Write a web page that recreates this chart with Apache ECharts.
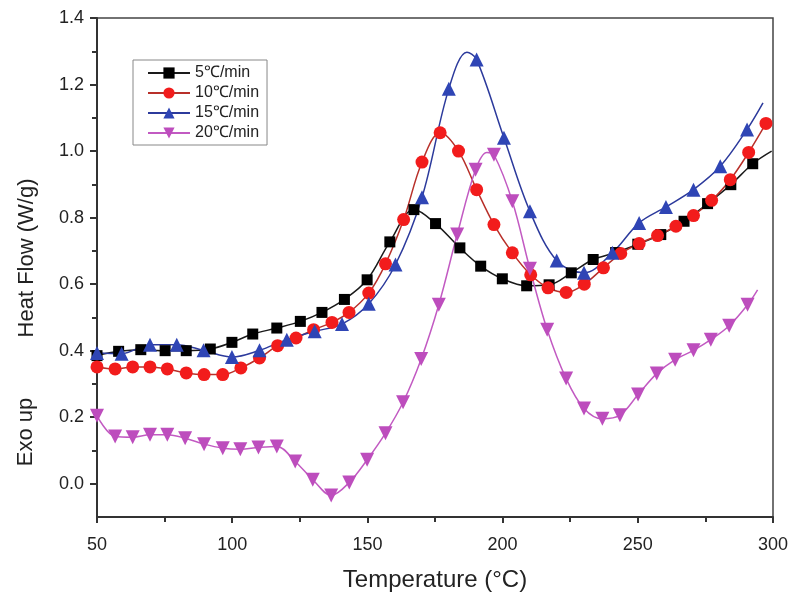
<!DOCTYPE html>
<html>
<head>
<meta charset="utf-8">
<script src="https://cdn.jsdelivr.net/npm/echarts@6/dist/echarts.min.js"></script>
<style>
  html, body { margin: 0; padding: 0; background: #fff; }
  #chart { width: 800px; height: 609px; }
</style>
</head>
<body>
<div id="chart"></div>
<script>
// series names
const seriesNames = ['5℃/min', '10℃/min', '15℃/min', '20℃/min']

// 5 ℃/min — marked points [T, heat flow]
const black = [
  [50, 0.385], [58, 0.398], [66.2, 0.403], [75.2, 0.40], [83, 0.40], [91.9, 0.405],
  [99.9, 0.425], [107.6, 0.45], [116.5, 0.468], [125.2, 0.488], [133.2, 0.515],
  [141.5, 0.554], [149.9, 0.613], [158.3, 0.727], [167.2, 0.824], [175.2, 0.782],
  [184.2, 0.709], [191.9, 0.654], [199.9, 0.616], [208.9, 0.595], [217.2, 0.598],
  [225.4, 0.634], [233.5, 0.674], [241.8, 0.695], [250, 0.72], [258.5, 0.749],
  [267.1, 0.789], [275.8, 0.842], [284.4, 0.899], [292.5, 0.962]
]
// points on the curve without a marker
const blackLine = [[299.5, 1.0]]

// 10 ℃/min
const red = [
  [50, 0.351], [56.7, 0.345], [63.2, 0.351], [69.6, 0.351], [76, 0.345], [83, 0.333],
  [89.6, 0.328], [96.5, 0.328], [103.2, 0.348], [110.1, 0.378], [116.8, 0.415],
  [123.6, 0.438], [130.1, 0.463], [136.9, 0.485], [143.2, 0.515], [150.5, 0.573],
  [156.7, 0.661], [163.4, 0.794], [170.2, 0.967], [176.9, 1.055], [183.7, 1.0],
  [190.4, 0.884], [196.8, 0.779], [203.6, 0.694], [210.4, 0.628], [216.8, 0.589],
  [223.5, 0.575], [230.2, 0.6], [237.3, 0.649], [243.7, 0.692], [250.5, 0.722],
  [257.3, 0.746], [264.1, 0.774], [270.6, 0.806], [277.3, 0.852], [284.2, 0.914],
  [291, 0.996], [297.4, 1.083]
]
const redLine = []

// 15 ℃/min
const blue = [
  [50, 0.393], [59.1, 0.391], [69.6, 0.418], [79.5, 0.418], [89.4, 0.401], [99.9, 0.381],
  [110.1, 0.401], [120.2, 0.433], [130.5, 0.458], [140.6, 0.48], [150.5, 0.541],
  [160.4, 0.659], [170.2, 0.861], [180.1, 1.187], [190.4, 1.275], [200.5, 1.04],
  [210.1, 0.819], [220, 0.671], [230.1, 0.634], [240.6, 0.694], [250.5, 0.784],
  [260.4, 0.832], [270.6, 0.884], [280.5, 0.954], [290.4, 1.065]
]
const blueLine = [[186.8, 1.297], [296.3, 1.145]]

// 20 ℃/min
const pink = [
  [50, 0.204], [56.7, 0.142], [63.2, 0.14], [69.6, 0.147], [76, 0.147], [82.6, 0.137],
  [89.6, 0.119], [96.5, 0.107], [103, 0.104], [109.7, 0.109], [116.5, 0.112],
  [123.3, 0.067], [129.8, 0.012], [136.6, -0.035], [143.3, 0.004], [149.9, 0.072],
  [156.7, 0.152], [163.2, 0.245], [169.9, 0.375], [176.4, 0.538], [183.2, 0.749],
  [190, 0.944], [196.8, 0.989], [203.6, 0.849], [210.1, 0.646], [216.5, 0.463],
  [223.5, 0.316], [230.1, 0.226], [236.9, 0.195], [243.4, 0.206], [250.1, 0.268],
  [257, 0.331], [263.8, 0.373], [270.6, 0.401], [277, 0.433], [283.8, 0.475],
  [290.6, 0.538]
]
const pinkLine = [[194.2, 0.996], [294.3, 0.583]]

const yMajor = [0, 0.2, 0.4, 0.6, 0.8, 1.0, 1.2, 1.4]
const yMinor = [0.1, 0.3, 0.5, 0.7, 0.9, 1.1, 1.3]

function merge(marked, lineOnly) {
  const pts = marked.map(p => ({ value: p }))
    .concat(lineOnly.map(p => ({ value: p, symbol: 'none' })))
  return pts.sort((a, b) => a.value[0] - b.value[0])
}

const chart = echarts.init(document.getElementById('chart'))
const font = 'Liberation Sans, Arial, sans-serif'

chart.setOption({
  animation: false,
  textStyle: { fontFamily: font },
  grid: { left: 97, right: 27, top: 18, bottom: 92, show: true, borderColor: '#444', borderWidth: 1.5 },
  legend: {
    orient: 'vertical', left: 133, top: 60,
    itemWidth: 42, itemHeight: 14, itemGap: 4,
    borderColor: '#888', borderWidth: 1, borderRadius: 0, padding: [5, 8, 4, 14],
    textStyle: { fontSize: 16, color: '#222', fontFamily: font },
    data: seriesNames
  },
  xAxis: {
    type: 'value', min: 50, max: 300, interval: 50,
    name: 'Temperature (°C)', nameLocation: 'middle', nameGap: 51,
    nameTextStyle: { fontSize: 24, color: '#222' },
    axisLine: { onZero: false, lineStyle: { color: '#333', width: 2 } },
    axisTick: { length: 6, lineStyle: { color: '#333', width: 2 } },
    minorTick: { show: true, splitNumber: 2, length: 5, lineStyle: { color: '#333', width: 2 } },
    axisLabel: { fontSize: 18, color: '#222', margin: 19 },
    splitLine: { show: false }
  },
  yAxis: [{
    type: 'value', min: -0.1, max: 1.4, interval: 0.1,
    axisLine: { lineStyle: { color: '#333', width: 2 } },
    axisTick: { length: 7, customValues: yMajor, lineStyle: { color: '#333', width: 2 } },
    axisLabel: { fontSize: 18, color: '#222', margin: 13, customValues: yMajor, formatter: v => v.toFixed(1) },
    splitLine: { show: false }
  }, {
    type: 'value', min: -0.1, max: 1.4, interval: 0.1, position: 'left',
    axisLine: { show: false },
    axisTick: { length: 5, customValues: yMinor, lineStyle: { color: '#333', width: 2 } },
    axisLabel: { show: false },
    splitLine: { show: false }
  }],
  graphic: [{
    type: 'text', x: 27, y: 258, rotation: Math.PI / 2,
    style: { text: 'Heat Flow (W/g)', fontSize: 22, fill: '#222', fontFamily: font, align: 'center', verticalAlign: 'middle' }
  }, {
    type: 'text', x: 26, y: 432, rotation: Math.PI / 2,
    style: { text: 'Exo up', fontSize: 22, fill: '#222', fontFamily: font, align: 'center', verticalAlign: 'middle' }
  }],
  series: [
    {
      name: seriesNames[0], type: 'line', smooth: 0.35, data: merge(black, blackLine),
      symbol: 'rect', symbolSize: 11,
      lineStyle: { color: '#1a1a1a', width: 1.5 }, itemStyle: { color: '#000' }
    },
    {
      name: seriesNames[1], type: 'line', smooth: 0.35, data: merge(red, redLine),
      symbol: 'circle', symbolSize: 13,
      lineStyle: { color: '#b8302a', width: 1.5 }, itemStyle: { color: '#f21c1c' }
    },
    {
      name: seriesNames[2], type: 'line', smooth: 0.35, data: merge(blue, blueLine),
      symbol: 'triangle', symbolSize: 14,
      lineStyle: { color: '#2c3a9c', width: 1.5 }, itemStyle: { color: '#2f45b5' }
    },
    {
      name: seriesNames[3], type: 'line', smooth: 0.35, data: merge(pink, pinkLine),
      symbol: 'triangle', symbolRotate: 180, symbolSize: 14,
      lineStyle: { color: '#c25ac2', width: 1.5 }, itemStyle: { color: '#bd4dbd' }
    }
  ]
})
</script>
</body>
</html>
